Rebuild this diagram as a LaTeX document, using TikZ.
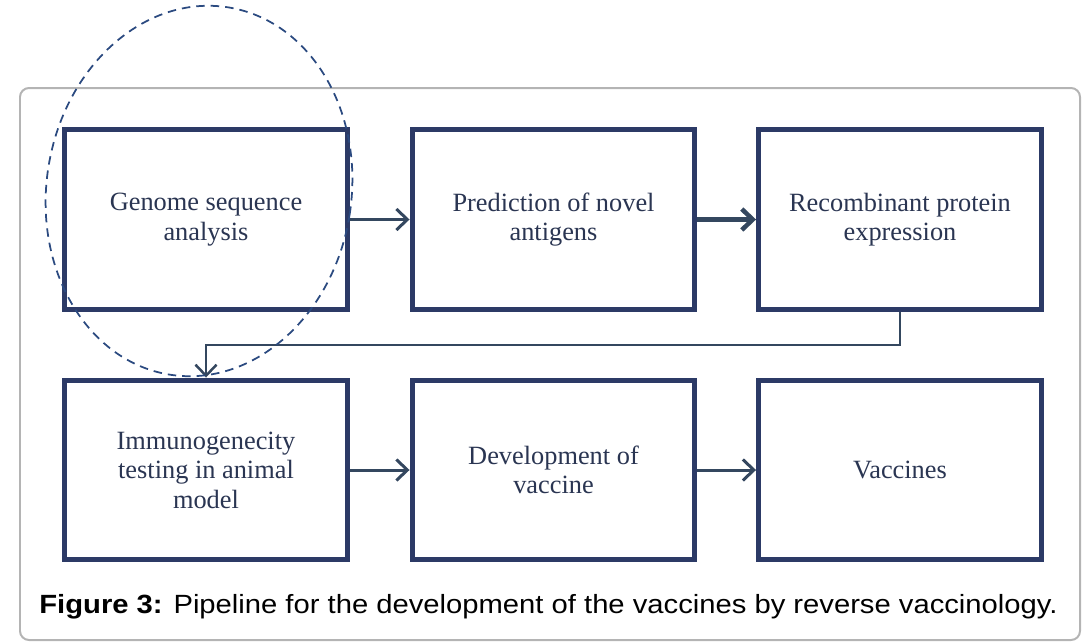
\documentclass[tikz,border=0pt]{standalone}
\usepackage{fontspec}
\setmainfont{Liberation Serif}
\newfontfamily\capfont{Liberation Sans}
\usetikzlibrary{positioning,calc,arrows.meta}
\definecolor{navy}{HTML}{2C3A66}
\definecolor{slate}{HTML}{34475F}
\definecolor{inkblue}{HTML}{2A3552}
\definecolor{dashblue}{HTML}{2B4A80}
\definecolor{frame}{HTML}{B4B4B4}
\begin{document}
\begin{tikzpicture}[x=0.02cm,y=-0.02cm,
  stage/.style={draw=navy,line width=0.1cm,fill=white,minimum width=5.66cm,
    minimum height=3.6cm,align=center,text=inkblue,
    font=\fontsize{15}{16.8}\selectfont},
  flow/.style={draw=slate,line width=0.06cm,-{Straight Barb[length=0.22cm,width=0.42cm]}}]
  \useasboundingbox (0,0) rectangle (1083,643);

  % --- Marco gris ---
  \draw[frame,line width=0.04cm,rounded corners=0.18cm] (20,88) rectangle (1080,640);

  % --- Etapas ---
  \node[stage] (genome) at (206,219.5) {Genome sequence\\analysis};
  \node[stage] (predict) at (553.5,219.5) {Prediction of novel\\antigens};
  \node[stage] (recomb) at (900,219.5) {Recombinant protein\\expression};
  \node[stage] (immuno) at (206,470) {Immunogenecity\\testing in animal\\model};
  \node[stage] (develop) at (553.5,470) {Development of\\vaccine};
  \node[stage] (vacc) at (900,470) {Vaccines};

  % --- Flechas ---
  \draw[flow] (genome) -- (predict);
  \draw[flow,line width=0.09cm] (predict) -- (recomb);
  \coordinate (turn) at (immuno.north |- 0,345);
  \draw[flow,line width=0.05cm] (recomb.south) |- (turn) -- (immuno.north);
  \draw[flow] (immuno) -- (develop);
  \draw[flow] (develop) -- (vacc);

  % --- Elipse discontinua ---
  \draw[dashblue,line width=0.035cm,dash pattern=on 0.17cm off 0.12cm,rotate around={-9:(199,191)}]
    (199,191) ellipse [x radius=3.05cm,y radius=3.72cm];

  % --- Pie de figura ---
  \node[font=\capfont\fontsize{15}{18}\selectfont,text=black,inner sep=0pt,xscale=1.108] (caption) at (548.5,607)
    {\textbf{Figure 3:} Pipeline for the development of the vaccines by reverse vaccinology.};
\end{tikzpicture}
\end{document}
